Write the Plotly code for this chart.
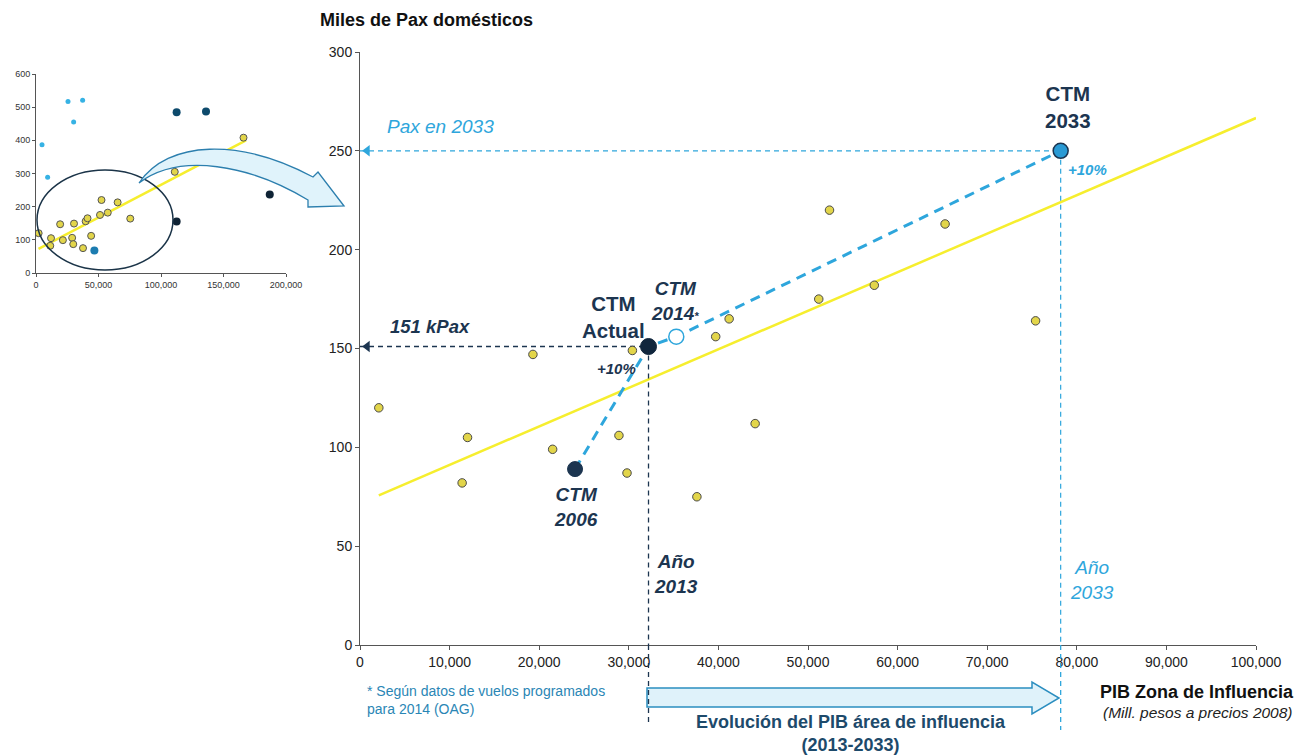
import plotly.graph_objects as go

W, H = 1308, 756

# Regional airports: GDP of influence zone (million pesos, 2008 prices) vs domestic pax (thousands)
gdp_zone = [2100, 12000, 11400, 19300, 21500, 28900, 29800, 30400, 37600, 39700,
            41200, 44100, 51200, 52400, 57400, 65300, 75400]
pax_dom = [120, 105, 82, 147, 99, 106, 87, 149, 75, 156,
           165, 112, 175, 220, 182, 213, 164]

# Fitted trend line endpoints (main chart)
trend_gdp = [2100, 100000]
trend_pax = [75.7, 266.6]

# CTM path: 2006, current, 2014 (OAG), 2033 projection
ctm_names = ["2006", "Actual", "2014", "2033"]
ctm_gdp = [24000, 32200, 35300, 78200]
ctm_pax = [89, 151, 156, 250]

# Overview chart (full sample)
ov_extra_gdp = [111000, 166000]
ov_extra_pax = [305, 408]
ov_small_gdp = [4800, 9300, 25600, 30100, 37300]
ov_small_pax = [387, 289, 517, 455, 521]
ov_teal_gdp = [112500, 136000]
ov_teal_pax = [485, 487]
ov_navy_gdp = [112500, 187000]
ov_navy_pax = [155, 237]
ov_blue_gdp = [46700]
ov_blue_pax = [68]
ov_trend_gdp = [2000, 168000]
ov_trend_pax = [73, 400]

x_ticks = list(range(0, 100001, 10000))
y_ticks = list(range(0, 301, 50))
ov_x_ticks = list(range(0, 200001, 50000))
ov_y_ticks = list(range(0, 601, 100))

NAVY = "#1c3550"
CYAN = "#2ea6dc"
YEL_FILL = "#e2d54a"
YEL_LINE = "#f6ee2e"
FONT = "Arial, Liberation Sans, sans-serif"


def px(x, y):
    """Pixel position on the canvas -> paper coordinates."""
    return x / W, 1 - y / H


def xdom(a, b):
    return [px(a, 0)[0], px(b, 0)[0]]


def ydom(bottom, top):
    return [px(0, bottom)[1], px(0, top)[1]]


fig = go.Figure()

# ---- main chart ----
fig.add_trace(go.Scatter(x=trend_gdp, y=trend_pax, mode="lines",
                         line=dict(color=YEL_LINE, width=2.5), hoverinfo="skip"))

# guide lines to the axis
fig.add_trace(go.Scatter(x=[0, ctm_gdp[1]], y=[ctm_pax[1], ctm_pax[1]], mode="lines",
                         line=dict(color=NAVY, width=1.3, dash="5px,4px")))
fig.add_trace(go.Scatter(x=[ctm_gdp[1], ctm_gdp[1]], y=[ctm_pax[1], 0], mode="lines",
                         line=dict(color=NAVY, width=1.3, dash="5px,4px")))
fig.add_trace(go.Scatter(x=[0, ctm_gdp[3]], y=[ctm_pax[3], ctm_pax[3]], mode="lines",
                         line=dict(color=CYAN, width=1.2, dash="5px,4px")))
fig.add_trace(go.Scatter(x=[ctm_gdp[3], ctm_gdp[3]], y=[ctm_pax[3], 0], mode="lines",
                         line=dict(color=CYAN, width=1.2, dash="5px,4px")))
fig.add_trace(go.Scatter(x=[800, 800], y=[ctm_pax[1], ctm_pax[3]], mode="markers",
                         marker=dict(symbol="triangle-left", size=10, color=[NAVY, CYAN],
                                     opacity=1),
                         cliponaxis=False))

# growth path
fig.add_trace(go.Scatter(x=ctm_gdp, y=ctm_pax, mode="lines",
                         line=dict(color=CYAN, width=3, dash="10px,7px")))

fig.add_trace(go.Scatter(x=gdp_zone, y=pax_dom, mode="markers",
                         marker=dict(size=8.5, color=YEL_FILL, opacity=1,
                                     line=dict(color="#4a4a4a", width=1))))

fig.add_trace(go.Scatter(
    x=ctm_gdp, y=ctm_pax, mode="markers",
    marker=dict(size=[15, 16, 15, 15], opacity=1,
                color=[NAVY, "#10263d", "#ffffff", "#2a9ad4"],
                line=dict(color=[NAVY, "#10263d", CYAN, NAVY], width=[1, 1, 1.5, 1.5])),
    cliponaxis=False))

# ---- overview chart ----
ov = dict(xaxis="x2", yaxis="y2")
fig.add_trace(go.Scatter(x=ov_trend_gdp, y=ov_trend_pax, mode="lines",
                         line=dict(color=YEL_LINE, width=2.5), **ov))
fig.add_trace(go.Scatter(x=gdp_zone + ov_extra_gdp, y=pax_dom + ov_extra_pax, mode="markers",
                         marker=dict(size=7, color=YEL_FILL, opacity=1,
                                     line=dict(color="#555", width=1)), **ov))
fig.add_trace(go.Scatter(x=ov_small_gdp, y=ov_small_pax, mode="markers",
                         marker=dict(size=5, color="#36b2e4", opacity=1), **ov))
fig.add_trace(go.Scatter(x=ov_teal_gdp, y=ov_teal_pax, mode="markers",
                         marker=dict(size=8, color="#0d4a6c", opacity=1), **ov))
fig.add_trace(go.Scatter(x=ov_navy_gdp, y=ov_navy_pax, mode="markers",
                         marker=dict(size=8, color="#0f2335", opacity=1), **ov))
fig.add_trace(go.Scatter(x=ov_blue_gdp, y=ov_blue_pax, mode="markers",
                         marker=dict(size=8, color="#1c7cb0", opacity=1), **ov))

axis_common = dict(showgrid=False, zeroline=False, showline=True, linecolor="#555",
                   linewidth=1, ticks="outside", tickcolor="#555", ticklen=4,
                   automargin=False,
                   tickfont=dict(family=FONT, size=14, color="#222"))
small_axis = {**axis_common, "ticklen": 3,
              "tickfont": dict(family=FONT, size=9, color="#333")}

fig.update_layout(
    width=W, height=H, margin=dict(l=0, r=0, t=0, b=0, pad=0, autoexpand=False),
    paper_bgcolor="white", plot_bgcolor="rgba(0,0,0,0)", showlegend=False,
    font=dict(family=FONT),
    xaxis=dict(domain=xdom(360, 1256), range=[0, 100000], tickvals=x_ticks,
               tickformat=",d", anchor="y", **axis_common),
    yaxis=dict(domain=ydom(645, 52), range=[0, 300], tickvals=y_ticks,
               anchor="x", **axis_common),
    xaxis2=dict(domain=xdom(36, 286), range=[0, 200000], tickvals=ov_x_ticks,
                tickformat=",d", anchor="y2", **small_axis),
    yaxis2=dict(domain=ydom(273, 74), range=[0, 600], tickvals=ov_y_ticks,
                anchor="x2", **small_axis),
)

shapes = []
# guide lines continuing below the axis into the GDP arrow band
for xv, col, bottom in [(ctm_gdp[1], NAVY, 722), (ctm_gdp[3], CYAN, 730)]:
    shapes.append(dict(type="line", xref="x", yref="paper", x0=xv, x1=xv,
                       y0=px(0, 645)[1], y1=px(0, bottom)[1],
                       line=dict(color=col, width=1.3, dash="5px,4px")))


def p(x, y):
    q = px(x, y)
    return f"{q[0]:.5f},{q[1]:.5f}"


# block arrow: GDP evolution 2013-2033
arrow_pts = [(647, 688), (1032, 688), (1032, 682), (1059, 698), (1032, 714),
             (1032, 707), (647, 707)]
shapes.append(dict(type="path", xref="paper", yref="paper",
                   path="M " + " L ".join(p(x, y) for x, y in arrow_pts) + " Z",
                   fillcolor="#dff2fa", line=dict(color="#2b8ec0", width=1.5), layer="below"))

# ellipse on overview chart
e0, e1 = px(37, 270), px(173, 170)
shapes.append(dict(type="circle", xref="paper", yref="paper", x0=e0[0], y0=e0[1],
                   x1=e1[0], y1=e1[1], line=dict(color="#1b3448", width=1.5)))

# curved zoom arrow
curve = (f"M {p(139,183)} C {p(168,140)} {p(240,138)} {p(313,177)} L {p(318,172)} "
         f"L {p(344,206)} L {p(308,207)} L {p(308,200)} C {p(250,165)} {p(180,152)} {p(139,183)} Z")
shapes.append(dict(type="path", xref="paper", yref="paper", path=curve,
                   fillcolor="#e0f3fb", line=dict(color="#2c7fae", width=1.3)))
fig.update_layout(shapes=shapes)

ann = []


def text_px(x, y, t, size, color, xanchor="center", yanchor="middle", align="center"):
    qx, qy = px(x, y)
    ann.append(dict(x=qx, y=qy, xref="paper", yref="paper", text=t, showarrow=False,
                    xanchor=xanchor, yanchor=yanchor, align=align,
                    font=dict(family=FONT, size=size, color=color)))


def text_data(x, y, t, size, color, align="center", xanchor="center"):
    ann.append(dict(x=x, y=y, xref="x", yref="y", text=t, showarrow=False,
                    xanchor=xanchor, yanchor="middle", align=align,
                    font=dict(family=FONT, size=size, color=color)))


text_px(318, 20, "<b>Miles de Pax domésticos</b>", 18, "#111", xanchor="left")
text_px(1296, 692, "<b>PIB Zona de Influencia</b>", 18, "#111", xanchor="right")
text_px(1295, 712, "<i>(Mill. pesos a precios 2008)</i>", 15.5, "#222", xanchor="right")
text_px(365, 700, "* Según datos de vuelos programados<br>para 2014 (OAG)", 14, "#2a86b5",
        xanchor="left", align="left")
text_px(851, 733, "<b>Evolución del PIB área de influencia<br>(2013-2033)</b>", 18, "#1d4a6b")

text_data(28240, 165.7, "<b>CTM<br>Actual</b>", 20.5, NAVY)
text_data(35200, 173.8, "<b><i>CTM<br>2014<span style='font-size:11px'>*</span></i></b>", 19, NAVY)
text_data(24100, 69.6, "<b><i>CTM<br>2006</i></b>", 19, NAVY)
text_data(28680, 139.7, "<b><i>+10%</i></b>", 15, NAVY)
text_data(3125, 160.9, "<b><i>151 kPax</i></b>", 18.5, NAVY, xanchor="left")
text_data(2800, 262.1, "<i>Pax en 2033</i>", 19, CYAN, xanchor="left")
text_data(79000, 272, "<b>CTM<br>2033</b>", 20.5, NAVY)
text_data(81140, 240.4, "<b><i>+10%</i></b>", 15, CYAN)
text_data(35270, 35.9, "<b><i>Año<br>2013</i></b>", 19, NAVY)
text_data(81700, 33.1, "<i>Año<br>2033</i>", 19, CYAN)

fig.update_layout(annotations=ann)

fig.write_html("out.html")
